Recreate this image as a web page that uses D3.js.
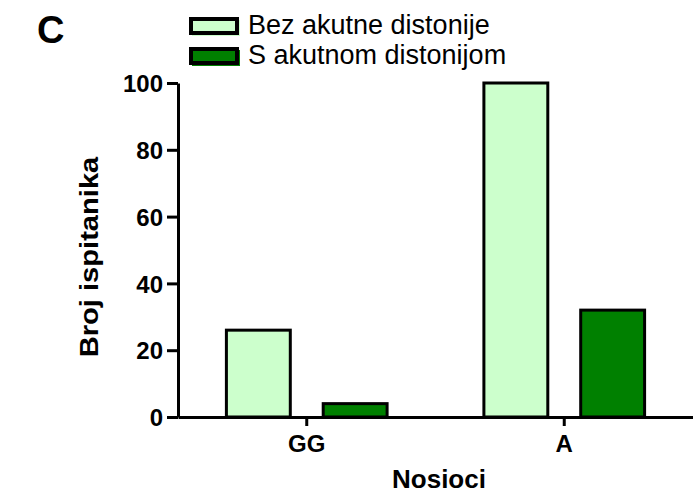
<!DOCTYPE html>
<html>
<head>
<meta charset="utf-8">
<script src="https://cdn.jsdelivr.net/npm/d3@7"></script>
<style>
  body { margin: 0; background: #fff; }
  svg text { font-family: "Liberation Sans", Arial, sans-serif; fill: #000; }
</style>
</head>
<body>
<svg id="chart" width="693" height="495"></svg>
<script>
const categories = ['GG', 'A']
const seriesNames = ['Bez akutne distonije', 'S akutnom distonijom']
const bezValues = [26, 100]
const sValues = [4, 32]
const yTicks = [0, 20, 40, 60, 80, 100]
const colors = ['#ccffcc', '#008000']

const svg = d3.select('#chart')
const margin = { left: 178, right: 0, top: 83, bottom: 78 }
const width = 693
const height = 495

const x0 = d3.scaleBand()
  .domain(categories)
  .range([margin.left, width - margin.right])
  .padding(0)

const x1 = d3.scaleBand()
  .domain(seriesNames)
  .range([0, x0.bandwidth()])
  .paddingInner(0.34)
  .paddingOuter(0.5)

const y = d3.scaleLinear()
  .domain([0, 100])
  .range([height - margin.bottom, margin.top])

const rows = categories.map((c, i) => ({
  cat: c,
  vals: [bezValues[i], sValues[i]]
}))

// bars
const groups = svg.append('g').selectAll('g')
  .data(rows)
  .join('g')
  .attr('transform', d => `translate(${x0(d.cat)},0)`)

groups.selectAll('rect')
  .data(d => d.vals.map((v, k) => ({ name: seriesNames[k], v, k })))
  .join('rect')
  .attr('x', d => x1(d.name))
  .attr('width', x1.bandwidth())
  .attr('y', d => y(d.v))
  .attr('height', d => y(0) - y(d.v))
  .attr('fill', d => colors[d.k])
  .attr('stroke', '#000')
  .attr('stroke-width', 3)

// y axis
const yAxis = d3.axisLeft(y).tickValues(yTicks).tickSize(11).tickSizeOuter(0).tickPadding(4)
const gy = svg.append('g').attr('transform', `translate(${margin.left},0)`).call(yAxis)
gy.select('.domain').attr('stroke', '#000').attr('stroke-width', 3)
gy.selectAll('.tick line').attr('stroke', '#000').attr('stroke-width', 3)
gy.selectAll('.tick text')
  .style('font-size', '24px').style('font-weight', 'bold')
  .attr('dy', '0.36em')

// x axis
const xAxis = d3.axisBottom(x0).tickSize(9).tickSizeOuter(0).tickPadding(9)
const gx = svg.append('g').attr('transform', `translate(0,${y(0)})`).call(xAxis)
gx.select('.domain').attr('stroke', '#000').attr('stroke-width', 3)
gx.selectAll('.tick line').attr('stroke', '#000').attr('stroke-width', 3)
gx.selectAll('.tick text').style('font-size', '24px').style('font-weight', 'bold')

// axis titles
svg.append('text')
  .attr('x', 439)
  .attr('y', 488)
  .attr('text-anchor', 'middle')
  .style('font-size', '26px').style('font-weight', 'bold')
  .text('Nosioci')

svg.append('text')
  .attr('transform', `translate(98,257) rotate(-90) scale(1.12,1)`)
  .attr('text-anchor', 'middle')
  .style('font-size', '26px').style('font-weight', 'bold')
  .text('Broj ispitanika')

// panel letter
svg.append('text')
  .attr('x', 37).attr('y', 43)
  .style('font-size', '38px').style('font-weight', 'bold')
  .text('C')

// legend
const legend = svg.append('g').selectAll('g')
  .data(seriesNames)
  .join('g')
  .attr('transform', (d, i) => `translate(191,${19 + i * 30})`)

legend.append('rect')
  .attr('x', 2).attr('y', 2)
  .attr('width', 46).attr('height', 14)
  .attr('fill', 'none')
  .attr('stroke', (d, i) => colors[i]).attr('stroke-width', 2)

legend.append('rect')
  .attr('width', 46).attr('height', 14)
  .attr('fill', (d, i) => colors[i])
  .attr('stroke', '#000').attr('stroke-width', 4)

legend.append('text')
  .attr('x', 57).attr('y', 15)
  .style('font-size', '27px')
  .text(d => d)
</script>
</body>
</html>
